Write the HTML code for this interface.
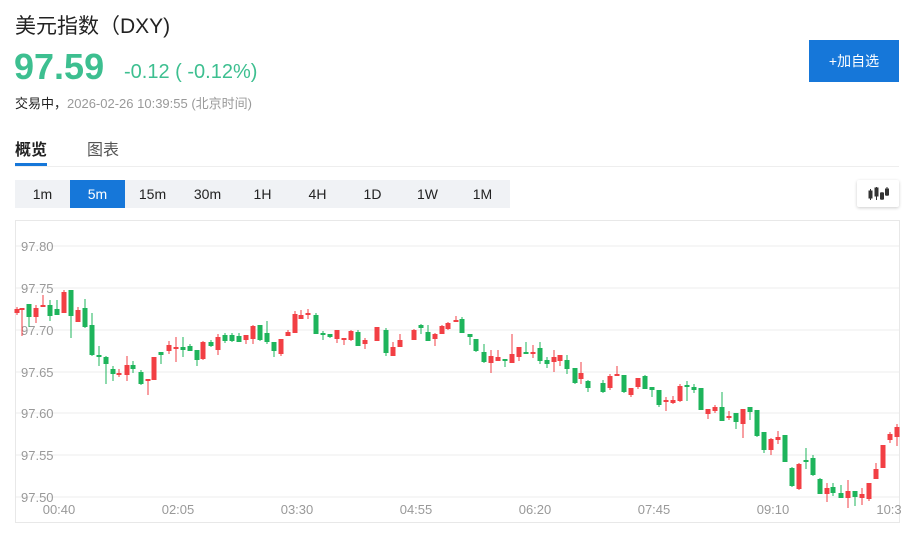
<!DOCTYPE html>
<html><head><meta charset="utf-8"><style>
body{margin:0;width:913px;height:533px;background:#fff;font-family:"Liberation Sans","Noto Sans CJK SC",sans-serif;position:relative;overflow:hidden}
.a{position:absolute;white-space:nowrap}
.t{position:absolute;top:180px;width:55px;height:28px;line-height:28px;text-align:center;font-size:14px;color:#222}
</style></head><body>
<div class="a" style="left:15px;top:10px;font-size:21px;color:#222">美元指数（DXY)</div>
<div class="a" style="left:14px;top:46px;font-size:36px;font-weight:bold;color:#3dbf90">97.59</div>
<div class="a" style="left:124px;top:61px;font-size:20px;color:#3dbf90">-0.12 ( -0.12%)</div>
<div class="a" style="left:15px;top:93px;font-size:13px;color:#222">交易中，<span style="color:#999">2026-02-26 10:39:55 (北京时间)</span></div>
<div class="a" style="left:809px;top:40px;width:90px;height:42px;background:#1677d9;color:#fff;font-size:14px;line-height:42px;text-align:center">+加自选</div>
<div class="a" style="left:15px;top:136px;font-size:16px;font-weight:bold;color:#222">概览</div>
<div class="a" style="left:87px;top:136px;font-size:16px;color:#555">图表</div>
<div class="a" style="left:15px;top:163px;width:32px;height:3px;background:#1677d9"></div>
<div class="a" style="left:15px;top:166px;width:884px;height:1px;background:#eee"></div>
<div class="a" style="left:15px;top:180px;width:495px;height:28px;background:#f0f2f5"></div>
<div class="t" style="left:15px">1m</div>
<div class="t" style="left:70px;background:#1677d9;color:#fff">5m</div>
<div class="t" style="left:125px">15m</div>
<div class="t" style="left:180px">30m</div>
<div class="t" style="left:235px">1H</div>
<div class="t" style="left:290px">4H</div>
<div class="t" style="left:345px">1D</div>
<div class="t" style="left:400px">1W</div>
<div class="t" style="left:455px">1M</div>
<div class="a" style="left:857px;top:180px;width:42px;height:27px;background:#fff;box-shadow:0 1px 3px rgba(0,0,0,.2);border-radius:2px"></div>
<svg class="a" style="left:868px;top:184px" width="22" height="20"><g fill="#333" stroke="#333"><line x1="2.5" y1="5" x2="2.5" y2="16"/><rect x="1" y="7" width="3" height="7"/><line x1="8.5" y1="3" x2="8.5" y2="16"/><rect x="7" y="4" width="3" height="8"/><line x1="14" y1="8" x2="14" y2="16"/><rect x="12.5" y="9" width="3" height="6"/><line x1="19" y1="3" x2="19" y2="12"/><rect x="17.5" y="5" width="3" height="6"/></g></svg>
<svg class="a" style="left:0;top:0" width="913" height="533">
<rect x="15.5" y="220.5" width="884" height="302" fill="none" stroke="#e8e8e8"/>
<g stroke="#eee"><line x1="16" x2="899" y1="246" y2="246"/><line x1="16" x2="899" y1="288" y2="288"/><line x1="16" x2="899" y1="330" y2="330"/><line x1="16" x2="899" y1="372" y2="372"/><line x1="16" x2="899" y1="413" y2="413"/><line x1="16" x2="899" y1="455" y2="455"/><line x1="16" x2="899" y1="497" y2="497"/></g>
<g font-size="13" fill="#999" font-family="Liberation Sans">
<text x="21" y="251">97.80</text><text x="21" y="293">97.75</text><text x="21" y="335">97.70</text><text x="21" y="377">97.65</text><text x="21" y="418">97.60</text><text x="21" y="460">97.55</text><text x="21" y="502">97.50</text>
</g>
<g font-size="13" fill="#999" font-family="Liberation Sans" text-anchor="middle">
<text x="59" y="514">00:40</text><text x="178" y="514">02:05</text><text x="297" y="514">03:30</text><text x="416" y="514">04:55</text><text x="535" y="514">06:20</text><text x="654" y="514">07:45</text><text x="773" y="514">09:10</text><text x="889" y="514">10:3</text>
</g>
<path fill="none" stroke="#f23f44" stroke-width="1" d="M17 307V315M22 309V336M36 305V323M43 295V307M64 290V313M78 307V322M119 369V377M127 356V381M148 379V395M154 357V380M169 341V354M176 337V362M203 341V360M218 334V355M246 335V344M253 325V344M281 339V356M288 330V336M295 311V333M301 310V319M308 309V319M337 330V343M344 338V345M351 330V341M365 338V349M377 327V341M393 342V356M400 334V347M414 329V340M435 333V346M442 325V334M448 322V330M456 316V322M491 350V373M498 350V361M512 334V363M519 347V361M533 345V358M554 350V372M560 355V366M581 362V384M610 374V390M617 366V376M631 388V397M638 378V389M666 397V411M673 396V404M680 384V402M708 409V419M715 405V413M729 411V420M743 409V438M771 438V455M778 431V444M799 463V490M827 483V502M848 480V508M862 488V505M869 483V501M876 463V479M883 445V468M890 432V443M897 424V446"/>
<path fill="none" stroke="#f23f44" stroke-width="5" d="M17 309V313M22 308V310M36 308V317M43 305V307M64 292V313M78 310V322M119 373V375M127 365V375M148 379V381M154 357V380M169 345V351M176 347V349M203 342V359M218 337V350M246 335V340M253 326V339M281 339V354M288 332V336M295 314V333M301 315V319M308 313V315M337 330V339M344 338V340M351 331V340M365 340V344M377 327V341M393 347V356M400 340V347M414 330V340M435 334V339M442 326V334M448 323V329M456 320V322M491 356V363M498 357V361M512 354V363M519 347V357M533 352V354M554 357V362M560 355V361M581 373V379M610 376V388M617 374V376M631 388V395M638 378V387M666 400V402M673 400V403M680 386V401M708 409V414M715 407V411M729 416V418M743 409V424M771 439V450M778 437V440M799 464V489M827 488V494M848 491V498M862 494V498M869 483V499M876 469V479M883 445V468M890 434V440M897 427V437"/>
<path fill="none" stroke="#1eb45b" stroke-width="1" d="M29 304V327M50 300V321M57 300V315M71 290V338M85 299V328M92 313V356M99 346V366M106 356V384M113 366V381M133 361V373M141 370V385M161 352V364M183 337V357M190 344V351M197 350V366M211 340V347M225 333V343M232 333V342M239 333V342M260 325V341M267 321V344M274 342V357M316 313V334M323 331V340M330 334V338M358 330V346M386 328V356M421 324V334M428 325V341M462 317V333M470 334V345M476 339V352M484 344V363M505 359V367M526 342V354M540 342V364M547 357V368M567 355V374M575 368V384M588 380V392M603 380V393M624 375V393M645 375V389M652 387V397M659 390V407M687 381V401M694 384V393M701 388V410M722 392V421M736 413V429M750 407V420M757 410V437M764 432V453M785 435V462M792 467V487M806 448V469M813 455V476M820 478V494M833 483V496M841 485V498M855 491V506"/>
<path fill="none" stroke="#1eb45b" stroke-width="5" d="M29 304V317M50 305V316M57 309V315M71 290V316M85 308V327M92 325V355M99 355V357M106 357V364M113 369V374M133 365V369M141 372V384M161 352V355M183 347V350M190 346V351M197 350V360M211 342V346M225 335V341M232 335V341M239 336V342M260 325V340M267 333V342M274 342V351M316 315V334M323 333V335M330 334V337M358 332V346M386 330V353M421 325V328M428 332V341M462 319V333M470 334V337M476 339V351M484 352V362M505 359V361M526 352V354M540 348V361M547 360V364M567 360V369M575 368V383M588 381V388M603 383V392M624 375V392M645 376V389M652 387V390M659 390V405M687 385V387M694 387V390M701 388V410M722 407V421M736 413V422M750 407V412M757 410V436M764 432V450M785 435V462M792 468V486M806 460V462M813 458V475M820 479V494M833 487V493M841 493V498M855 491V497"/>
</svg>
</body></html>
